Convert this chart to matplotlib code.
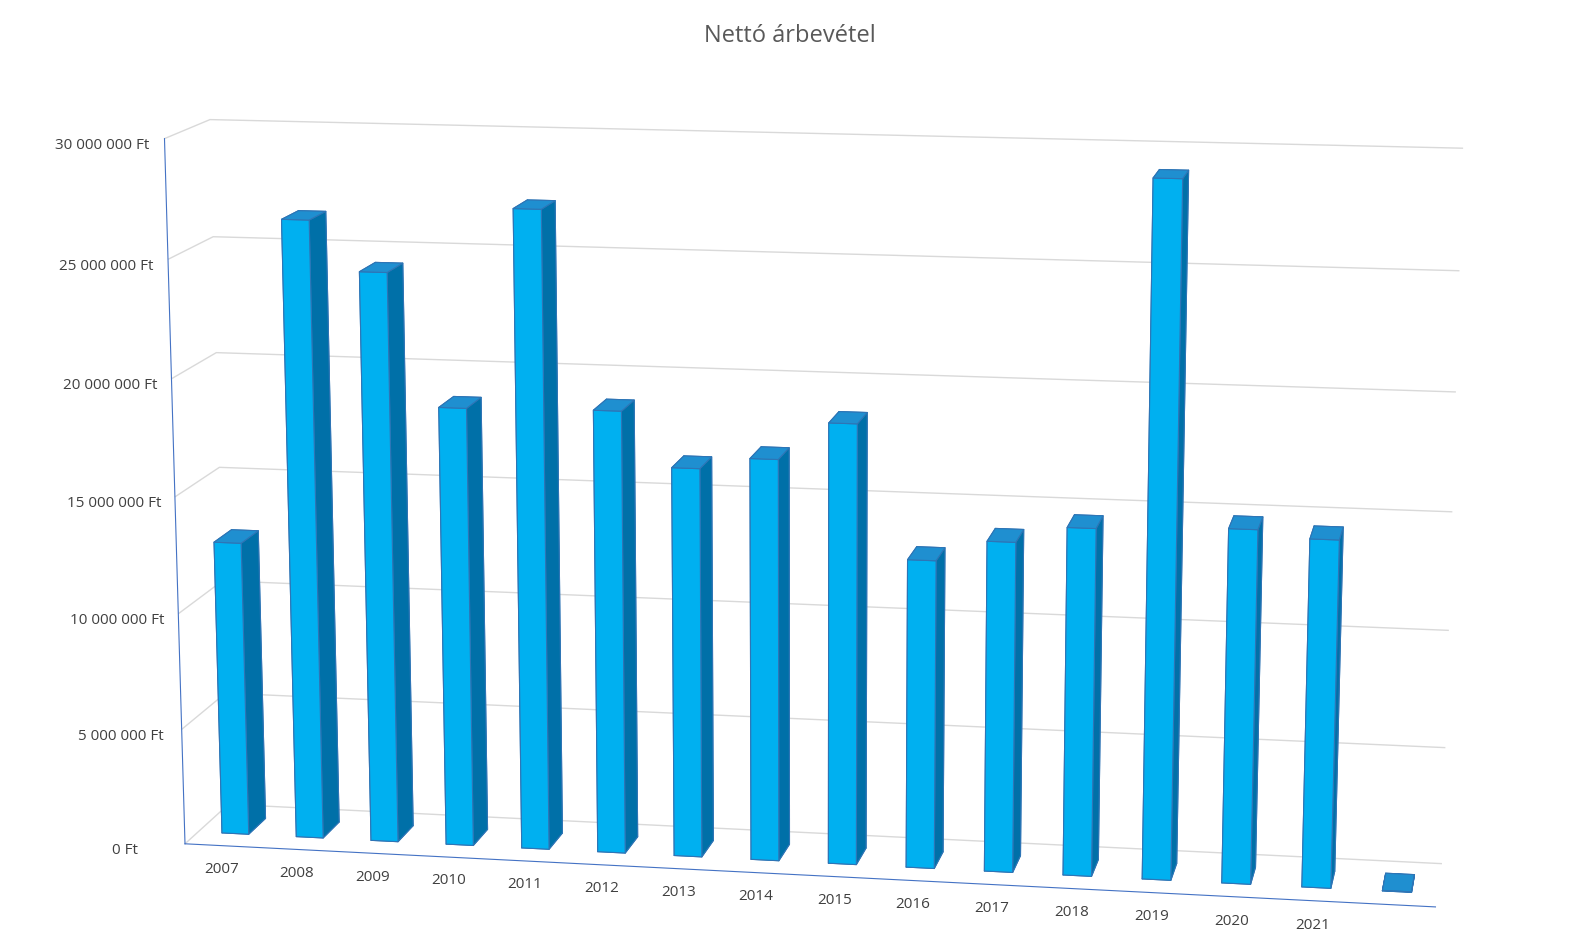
import numpy as np
import matplotlib.pyplot as plt
from matplotlib.ticker import FuncFormatter

plt.rcParams['font.family'] = 'Open Sans'

years = ['2007', '2008', '2009', '2010', '2011', '2012', '2013', '2014',
         '2015', '2016', '2017', '2018', '2019', '2020', '2021', '']
revenue = [12.7e6, 26.5e6, 24.4e6, 18.8e6, 27.2e6, 18.9e6, 16.6e6, 17.1e6,
           18.7e6, 13.1e6, 14.0e6, 14.7e6, 29.1e6, 14.9e6, 14.6e6, 0.0]
yticks = [0, 5e6, 10e6, 15e6, 20e6, 25e6, 30e6]


def ft(v, pos=None):
    return '{:,.0f} Ft'.format(v).replace(',', ' ')


fig = plt.figure(figsize=(15.79, 9.52), dpi=100)
ax = fig.add_axes([-0.12, -0.3, 1.24, 1.5], projection='3d')

# face order: bottom, top, front, back, left, right
face_cols = ['#0070A8', '#1F8FD0', '#00B0F0', '#0070A8', '#0070A8', '#0070A8']
xs = np.arange(len(years))
ax.bar3d(xs - 0.18, np.full(len(xs), 0.3), np.zeros(len(xs)), 0.36, 0.4,
         np.maximum(revenue, 2e4), color=face_cols * len(xs),
         edgecolor='#2E75B6', linewidth=0.8, shade=False)

ax.set_xlim(-0.5, len(years) - 0.5)
ax.set_ylim(0, 1)
ax.set_zlim(0, 30e6)
ax.set_xticks(xs)
ax.set_xticklabels(years, fontsize=11, color='#404040')
ax.set_yticks([])
ax.set_zticks(yticks)
ax.zaxis.set_major_formatter(FuncFormatter(ft))
ax.tick_params(axis='z', labelsize=11, colors='#404040', pad=18)
ax.tick_params(axis='x', pad=4)
ax.zaxis._axinfo['juggled'] = (1, 2, 0)

for a in (ax.xaxis, ax.yaxis, ax.zaxis):
    a.set_pane_color((1, 1, 1, 0))
    a.pane.set_edgecolor('#4472C4')
    a._axinfo['grid']['color'] = '#D9D9D9'
    a._axinfo['grid']['linewidth'] = 1.0
    a._axinfo['tick']['inward_factor'] = 0
    a._axinfo['tick']['outward_factor'] = 0
ax.xaxis._axinfo['grid']['color'] = (1, 1, 1, 0)
ax.xaxis.line.set_color('#4472C4')
ax.zaxis.line.set_color('#4472C4')
ax.yaxis.line.set_color((1, 1, 1, 0))

ax.set_box_aspect((4.2, 0.5, 2.4))
ax.view_init(elev=12, azim=-80)
ax.set_proj_type('persp', focal_length=0.6)

fig.text(0.5, 0.962, 'Nettó árbevétel', ha='center', va='center',
         fontsize=17, color='#595959')
fig.savefig('out.png', dpi=100)
